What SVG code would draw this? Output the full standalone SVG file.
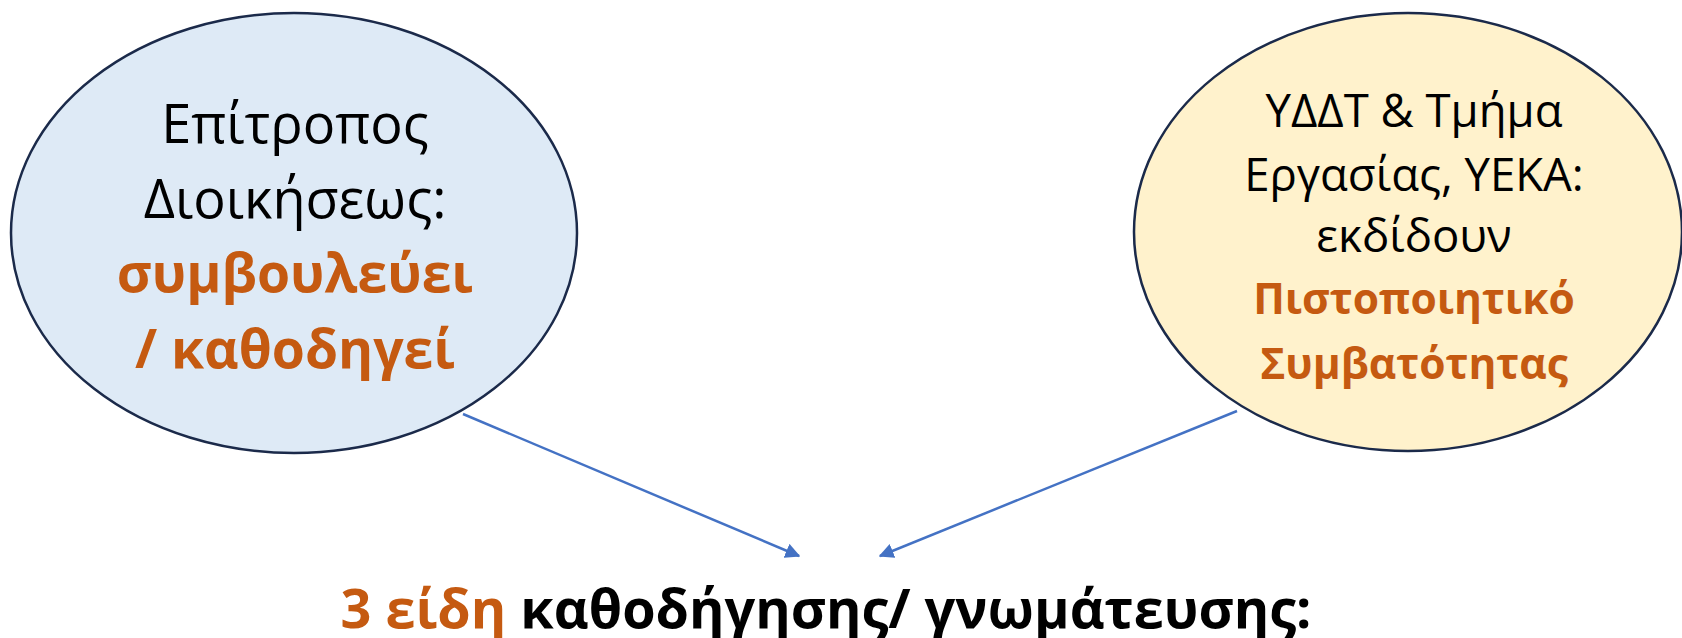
<svg xmlns="http://www.w3.org/2000/svg" width="1682" height="638" viewBox="0 0 1682 638">
<defs>
<style>
.node{stroke:#1B2A4A;stroke-width:2.5}
.t{font-family:"Open Sans","Noto Sans",sans-serif;text-anchor:middle;fill:#000}
.o{fill:#C55A11;font-weight:bold}
.b{font-weight:bold}
.c{stroke:#4472C4;stroke-width:2.5;fill:none;marker-end:url(#ah)}
</style>
<marker id="ah" viewBox="0 0 10 10" refX="9" refY="5" markerWidth="6" markerHeight="6" orient="auto" markerUnits="strokeWidth">
<path d="M0,0 L10,5 L0,10 z" fill="#4472C4"/>
</marker>
</defs>
<rect width="1682" height="638" fill="#fff"/>
<g id="node-left">
<ellipse class="node" cx="294" cy="233" rx="283" ry="220" fill="#DEEAF6"/>
<text class="t" x="295" y="143" font-size="54">Επίτροπος</text>
<text class="t" x="295" y="218" font-size="54">Διοικήσεως:</text>
<text class="t o" x="295" y="292" font-size="53.5">συμβουλεύει</text>
<text class="t o" x="295" y="368" font-size="53.5">/ καθοδηγεί</text>
</g>
<g id="node-right">
<ellipse class="node" cx="1408" cy="232" rx="274" ry="219" fill="#FFF2CC"/>
<text class="t" x="1414" y="127" font-size="45.5">ΥΔΔΤ &amp; Τμήμα</text>
<text class="t" x="1414" y="191" font-size="45.5">Εργασίας, ΥΕΚΑ:</text>
<text class="t" x="1414" y="252" font-size="45.5">εκδίδουν</text>
<text class="t o" x="1414" y="314" font-size="42.5">Πιστοποιητικό</text>
<text class="t o" x="1414" y="379" font-size="42.5">Συμβατότητας</text>
</g>
<g id="connectors">
<line class="c" x1="463" y1="414" x2="799" y2="556"/>
<line class="c" x1="1237" y1="411" x2="880" y2="556"/>
</g>
<g id="title">
<text class="t b" x="826" y="628" font-size="54"><tspan fill="#C55A11">3 είδη</tspan> καθοδήγησης/ γνωμάτευσης:</text>
</g>
</svg>
